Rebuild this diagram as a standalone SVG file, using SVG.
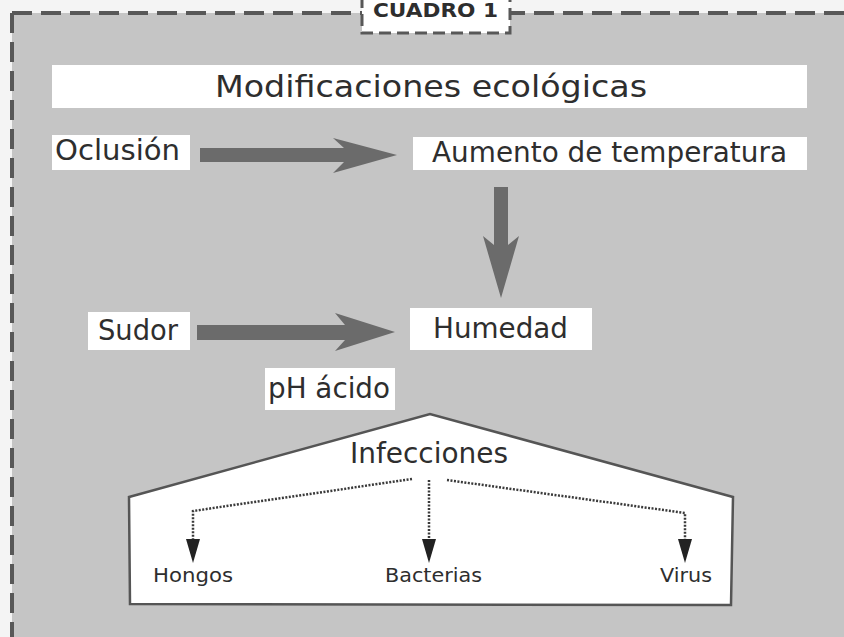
<svg xmlns="http://www.w3.org/2000/svg" width="844" height="637" viewBox="0 0 844 637">
  <style>
    .box { fill: #ffffff; }
    .t { font-family: "DejaVu Sans", "Liberation Sans", sans-serif; fill: #2e2e2e; }
    .big { font-size: 28px; }
    .small { font-size: 20px; }
    .thick { fill: #6b6b6b; }
    .dot { fill: none; stroke: #3a3a3a; stroke-width: 2.5; stroke-dasharray: 2 1.5; }
    .head { fill: #222222; }
    .frame { fill: none; stroke: #585858; stroke-width: 4; stroke-dasharray: 20 9; }
    .lbl { fill: #ffffff; stroke: #585858; stroke-width: 3; stroke-dasharray: 12 6; }
  </style>

  <rect x="0" y="0" width="844" height="637" fill="#f4f4f4"/>
  <g id="frame">
    <rect x="12" y="13" width="840" height="630" fill="#c5c5c5"/>
    <line class="frame" x1="12" y1="13" x2="844" y2="13"/>
    <line class="frame" x1="12" y1="13" x2="12" y2="637"/>
  </g>

  <g id="label-cuadro">
    <rect class="lbl" x="362" y="-6" width="148" height="39"/>
    <text class="t" x="373" y="17" font-size="19" font-weight="bold" textLength="125" lengthAdjust="spacingAndGlyphs" fill="#1e1e1e">CUADRO 1</text>
  </g>

  <g id="title">
    <rect class="box" x="52" y="65" width="755" height="43"/>
    <text class="t" x="215" y="97" font-size="31" textLength="432" lengthAdjust="spacingAndGlyphs">Modificaciones ecológicas</text>
  </g>

  <g id="oclusion">
    <rect class="box" x="52" y="135" width="138" height="35"/>
    <text class="t big" x="55" y="160" textLength="125" lengthAdjust="spacingAndGlyphs">Oclusión</text>
  </g>

  <g id="aumento">
    <rect class="box" x="413" y="137" width="394" height="33"/>
    <text class="t big" x="432" y="162" textLength="355" lengthAdjust="spacingAndGlyphs">Aumento de temperatura</text>
  </g>

  <g id="sudor">
    <rect class="box" x="88" y="312" width="102" height="38"/>
    <text class="t big" x="98" y="340" textLength="80" lengthAdjust="spacingAndGlyphs">Sudor</text>
  </g>

  <g id="humedad">
    <rect class="box" x="410" y="308" width="182" height="42"/>
    <text class="t big" x="433" y="338" textLength="135" lengthAdjust="spacingAndGlyphs">Humedad</text>
  </g>

  <g id="ph">
    <rect class="box" x="265" y="368" width="130" height="42"/>
    <text class="t big" x="268" y="398" textLength="122" lengthAdjust="spacingAndGlyphs">pH ácido</text>
  </g>

  <g id="infecciones">
    <polygon points="129,497 430,414 733,497 731,605 130,604" fill="#ffffff" stroke="#555555" stroke-width="2.5"/>
    <text class="t big" x="350" y="463" textLength="158" lengthAdjust="spacingAndGlyphs">Infecciones</text>
  </g>

  <g id="hongos">
    <text class="t small" x="153" y="582" textLength="80" lengthAdjust="spacingAndGlyphs">Hongos</text>
  </g>
  <g id="bacterias">
    <text class="t small" x="385" y="582" textLength="97" lengthAdjust="spacingAndGlyphs">Bacterias</text>
  </g>
  <g id="virus">
    <text class="t small" x="660" y="582" textLength="52" lengthAdjust="spacingAndGlyphs">Virus</text>
  </g>

  <g id="connectors">
    <polygon class="thick" points="200,148 344,148 333,138 397,155 333,173 344,162 200,162"/>
    <polygon class="thick" points="494,187 508,187 508,245 519,236 501,298 483,236 494,245"/>
    <polygon class="thick" points="197,325 345,325 335,313 395,332 335,351 345,340 197,340"/>

    <path class="dot" d="M412,479 L193,511 L193,542"/>
    <polygon class="head" points="186,539 200,539 193,563"/>
    <path class="dot" d="M429,480 L429,542"/>
    <polygon class="head" points="422,539 436,539 429,563"/>
    <path class="dot" d="M447,480 L685,513 L685,542"/>
    <polygon class="head" points="678,539 692,539 685,563"/>
  </g>
</svg>
